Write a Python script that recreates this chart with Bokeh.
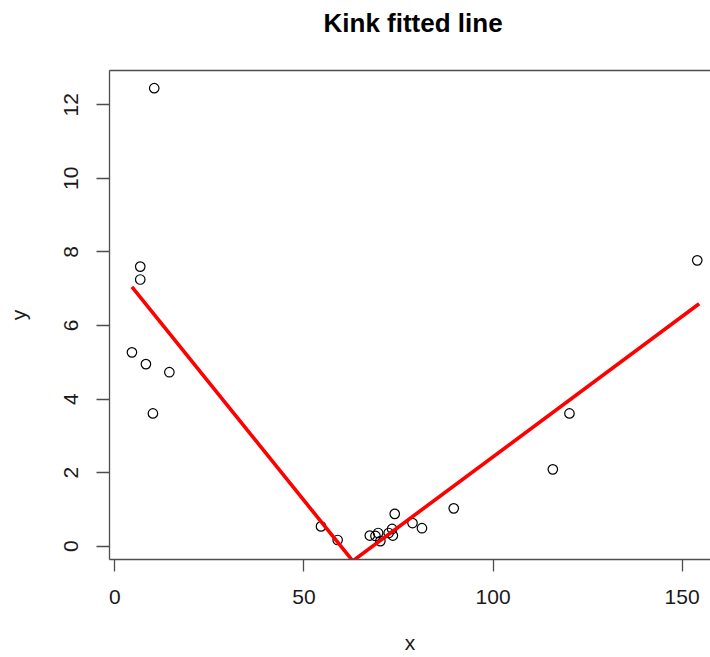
from bokeh.plotting import figure
from bokeh.models import Range1d, FixedTicker, Title, LinearAxis
from bokeh.embed import file_html
from bokeh.resources import INLINE

# observed data points
x_obs = [10.4, 6.7, 6.7, 4.5, 8.2, 14.4, 10.05, 54.5, 58.9, 67.4, 68.9, 69.6,
         70.2, 72.4, 73.3, 74.0, 73.5, 78.7, 81.2, 89.6, 115.8, 120.2, 154.0]
y_obs = [12.45, 7.6, 7.25, 5.27, 4.95, 4.73, 3.61, 0.54, 0.17, 0.29, 0.28, 0.36,
         0.14, 0.36, 0.47, 0.88, 0.29, 0.63, 0.49, 1.03, 2.09, 3.61, 7.77]

# kink fitted line (start, kink, end)
fit_x = [4.5, 62.9, 154.5]
fit_y = [7.05, -0.40, 6.59]

x_ticks = [0, 50, 100, 150]
y_ticks = [0, 2, 4, 6, 8, 10, 12]

title_text = "Kink fitted line"

FONT = "Liberation Sans"
AX = "#4d4d4d"

p = figure(width=710, height=657, output_backend="svg", toolbar_location=None,
           x_range=Range1d(-1.43, 157.5), y_range=Range1d(-0.36, 12.93),
           min_border_left=109, min_border_right=0, min_border_top=70,
           min_border_bottom=98, background_fill_color="white",
           border_fill_color="white", outline_line_color=None)

p.xgrid.visible = False
p.ygrid.visible = False

for ax in (p.xaxis[0], p.yaxis[0]):
    ax.axis_line_color = AX
    ax.axis_line_width = 1.3
    ax.major_tick_line_color = AX
    ax.major_tick_line_width = 1.3
    ax.major_tick_in = 0
    ax.major_tick_out = 12
    ax.minor_tick_line_color = None
    ax.major_label_text_font = FONT
    ax.major_label_text_font_size = "21px"
    ax.major_label_text_color = "#1a1a1a"
    ax.axis_label_text_font = FONT
    ax.axis_label_text_font_size = "21px"
    ax.axis_label_text_font_style = "normal"
    ax.axis_label_text_color = "#1a1a1a"

p.xaxis[0].ticker = FixedTicker(ticks=x_ticks)
p.yaxis[0].ticker = FixedTicker(ticks=y_ticks)
p.xaxis[0].axis_label = "x"
p.yaxis[0].axis_label = "y"
p.xaxis[0].major_label_standoff = 18
p.xaxis[0].axis_label_standoff = 24
p.yaxis[0].major_label_orientation = "vertical"
p.yaxis[0].major_label_standoff = 18
p.yaxis[0].axis_label_standoff = 32
p.yaxis[0].major_tick_out = 13

# top side of the box: an axis without visible ticks or labels
top_axis = LinearAxis(ticker=FixedTicker(ticks=[0]), axis_line_color=AX,
                      axis_line_width=1.3, major_tick_line_color=None,
                      major_tick_in=0, major_tick_out=28,
                      minor_tick_line_color=None, major_label_standoff=0,
                      major_label_text_font_size="1px",
                      major_label_text_alpha=0)
p.add_layout(top_axis, "above")

p.title = Title(text=title_text, align="left", text_font=FONT,
                text_font_size="26px", text_font_style="bold",
                text_color="black", standoff=10, offset=214)

p.scatter(x_obs, y_obs, marker="circle", size=9.5, fill_color=None,
          line_color="black", line_width=1.2)
p.line(fit_x, fit_y, line_color="#ff0000", line_width=3.6)

open("out.html", "w").write(file_html(p, INLINE))
